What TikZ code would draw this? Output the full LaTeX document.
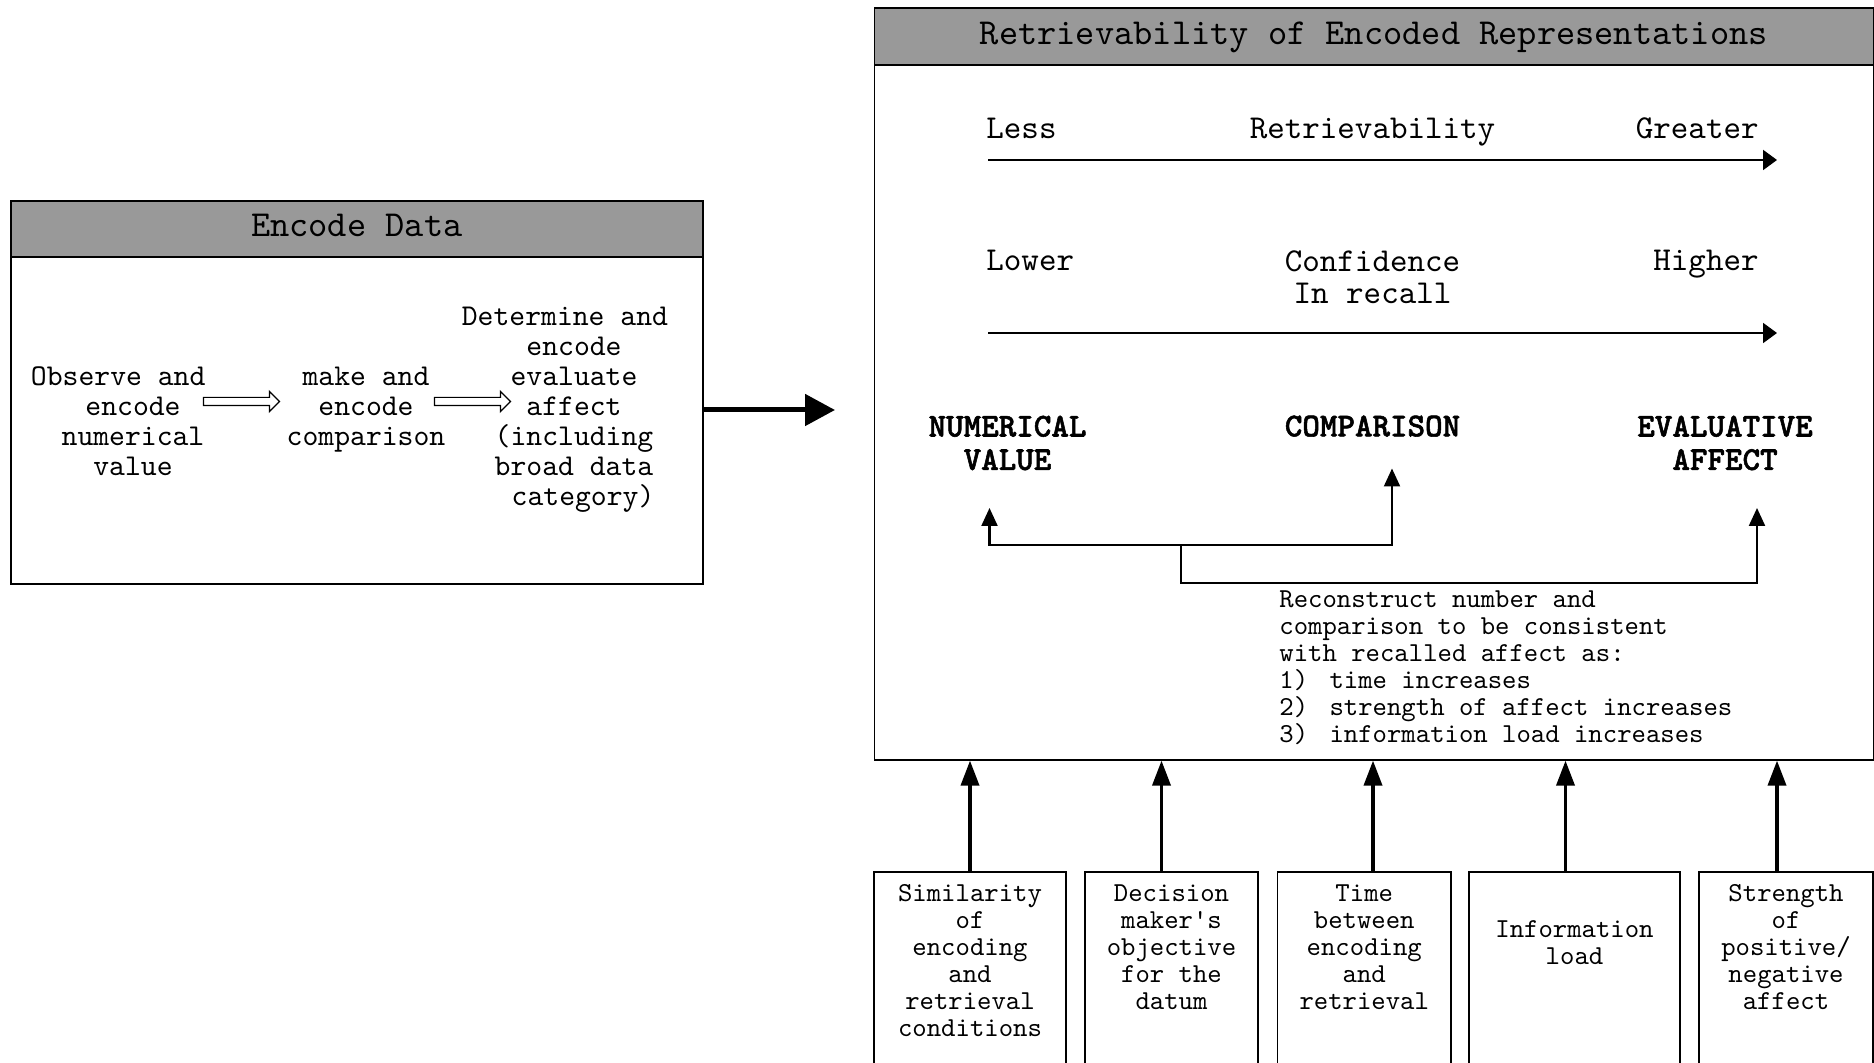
\documentclass[tikz,border=0pt]{standalone}
\usepackage{fontspec}
\setmonofont{lmmono10-regular.otf}[BoldFont=lmmonolt10-bold.otf, BoldFeatures={FakeBold=1.6}]
\renewcommand{\familydefault}{\ttdefault}
\usetikzlibrary{arrows.meta, shapes.arrows}
\definecolor{headgray}{RGB}{153,153,153}

\begin{document}
\begin{tikzpicture}[x=0.5pt, y=-0.5pt,
  panel/.style={draw, line width=0.8pt, fill=white, inner sep=0pt},
  head/.style={draw, line width=0.8pt, fill=headgray, inner sep=0pt, text height=11.5pt, text depth=4pt, font=\fontsize{18.3}{19}\selectfont},
  stagetxt/.style={align=center, inner sep=0pt, font=\fontsize{15.1}{15}\selectfont},
  scaletxt/.style={align=center, inner sep=0pt, font=\fontsize{16.7}{16}\selectfont},
  keytxt/.style={align=center, inner sep=0pt, font=\bfseries\fontsize{16.7}{16.7}\selectfont},
  notetxt/.style={align=left, inner sep=0pt, font=\fontsize{13.7}{13.5}\selectfont},
  factorbox/.style={draw, line width=0.8pt, inner sep=0pt, anchor=north, minimum height=108pt},
  factortxt/.style={align=center, inner sep=0pt, anchor=north, font=\fontsize{13.7}{13.5}\selectfont},
  flowarr/.style={draw, single arrow, line width=0.6pt, inner sep=1.75pt, minimum height=38pt, single arrow head extend=3pt},
  bigarr/.style={line width=2.5pt, -{Triangle[length=15pt, width=15.5pt]}},
  scalearr/.style={line width=1pt, -{Triangle[length=7pt, width=10pt]}},
  linkarr/.style={line width=1.1pt, -{Triangle[length=9pt, width=8pt]}},
  factorarr/.style={line width=1.8pt, -{Triangle[length=12.5pt, width=9pt]}}]
  \useasboundingbox (0,0) rectangle (1874,1063);

  % encoding stage
  \node[panel, anchor=north west, minimum width=346pt, minimum height=191.5pt] (encbox) at (10,200) {};
  \node[head, anchor=north west, minimum width=346pt, minimum height=28pt] (enchead) at (encbox.north west) {Encode Data};
  \node[stagetxt] (observe) at (133,421) {Observe and\hspace*{14.8pt}\\encode\hspace*{9pt}\\numerical\\value};
  \node[flowarr] (flow1) at (239.5,401.5) {};
  \node[stagetxt] (compare) at (366,409.6) {make and\\encode\\comparison};
  \node[flowarr] (flow2) at (470.5,401.5) {};
  \node[stagetxt] (affect) at (574,409.6) {Determine and\hspace*{0.6em}\\encode\\evaluate\\affect\\(including\\broad data\\\hspace*{0.6em}category)};
  \coordinate (bigtip) at (835,410);
  \draw[bigarr] (encbox.east |- bigtip) -- (bigtip);

  % retrieval panel
  \node[panel, anchor=north west, minimum width=499.5pt, minimum height=376pt] (rbox) at (873.5,7) {};
  \node[head, anchor=north west, minimum width=499.5pt, minimum height=28.75pt] (rhead) at (rbox.north west) {Retrievability of Encoded Representations};

  % scales
  \node[scaletxt, anchor=mid west] (less) at (986,134) {Less};
  \node[scaletxt, anchor=mid] (retr) at (1372.5,134) {Retrievability};
  \node[scaletxt, anchor=mid east] (greater) at (1759,134) {Greater};
  \coordinate (s1a) at (988,160);
  \coordinate (s1b) at (1777,160);
  \draw[scalearr] (s1a) -- (s1b);
  \node[scaletxt, anchor=mid west] (lower) at (986,266) {Lower};
  \node[scaletxt] (conf) at (1372.5,277) {Confidence\\In recall};
  \node[scaletxt, anchor=mid east] (higher) at (1759,266) {Higher};
  \coordinate (s2a) at (988,333);
  \coordinate (s2b) at (1777,333);
  \draw[scalearr] (s2a) -- (s2b);

  % representations
  \node[keytxt] (numval) at (1007.5,443) {NUMERICAL\\VALUE};
  \node[keytxt, anchor=mid] (compar) at (1372.5,432) {COMPARISON};
  \node[keytxt] (evaff) at (1725,443) {EVALUATIVE\\AFFECT};
  \coordinate (nvtip) at (989.5,508);
  \coordinate (cmptip) at (1392,468.5);
  \coordinate (evtip) at (1757,508);
  \coordinate (fork) at (1181,545);
  \draw[linkarr] (fork) -- (fork -| nvtip) -- (nvtip);
  \draw[linkarr] (fork) -- (fork -| cmptip) -- (cmptip);
  \draw[linkarr] (fork) -- ++(0,38) -| (evtip);
  \node[notetxt, anchor=west] (recon) at (1279,667.5) {Reconstruct number and\\comparison to be consistent\\with recalled affect as:\\1)\hspace*{0.78em}time increases\\2)\hspace*{0.78em}strength of affect increases\\3)\hspace*{0.78em}information load increases};

  % factors below
  \foreach \nm/\cx/\bw/\ax/\ty/\txt in {
      sim/970/96.25/970/6.5/{Similarity\\of\\encoding\\and\\retrieval\\conditions},
      obj/1171.5/86.5/1161.5/6.5/{Decision\\maker's\\objective\\for the\\datum},
      time/1364.25/86.75/1373/6.5/{Time\\between\\encoding\\and\\retrieval},
      load/1574.5/105.5/1565.5/24.5/{Information\\load},
      aff/1786/86.8/1777/6.5/{Strength\\of\\positive/\\negative\\affect}} {
    \node[factorbox, minimum width=\bw pt] (\nm) at (\cx,871) {};
    \node[factortxt] (\nm t) at ([yshift=-\ty pt]\nm.north) {\txt};
    \coordinate (\nm a) at (\ax,0);
    \draw[factorarr] (\nm.north -| \nm a) -- (rbox.south -| \nm a);
  }
\end{tikzpicture}
\end{document}
